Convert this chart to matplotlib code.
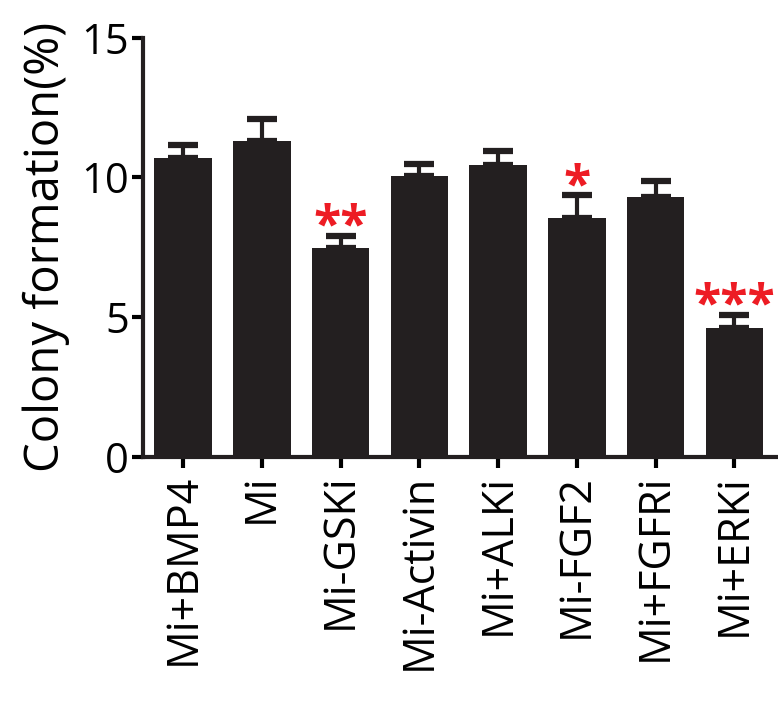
import matplotlib
matplotlib.use("Agg")
import matplotlib.pyplot as plt

# Data
conditions = ["Mi+BMP4", "Mi", "Mi-GSKi", "Mi-Activin", "Mi+ALKi", "Mi-FGF2", "Mi+FGFRi", "Mi+ERKi"]
colony_pct = [10.70, 11.30, 7.49, 10.05, 10.45, 8.56, 9.30, 4.63]
sem = [0.47, 0.80, 0.41, 0.44, 0.51, 0.80, 0.56, 0.45]
stars = ["", "", "**", "", "", "*", "", "***"]

plt.rcParams['font.family'] = ['Open Sans', 'DejaVu Sans']

fig = plt.figure(figsize=(7.78, 7.07), dpi=100)
ax = fig.add_axes([0.1838, 0.3536, 0.8149, 0.5931])

bar_color = '#231f20'
x = range(len(conditions))
ax.bar(x, colony_pct, width=0.73, color=bar_color, zorder=2)
_, caps, _ = ax.errorbar(x, colony_pct, yerr=[[0] * len(sem), sem], fmt='none', ecolor=bar_color,
                         elinewidth=3, capsize=11, capthick=4.5, zorder=1)
for c in caps:
    c.set_solid_capstyle('round')

for i, s in enumerate(stars):
    if s:
        ax.annotate(s, (i, colony_pct[i] + sem[i]), xytext=(0, -12), textcoords='offset points',
                    ha='center', va='bottom', color='#ed1c24', fontsize=36,
                    fontweight='bold')

ax.set_xlim(-0.51, 7.54)
ax.set_ylim(0, 15)
ax.set_yticks([0, 5, 10, 15])
ax.set_xticks(list(x))
ax.set_xticklabels(conditions, rotation=90, fontsize=31)
ax.tick_params(axis='y', labelsize=30, width=3, length=8, pad=2)
ax.tick_params(axis='x', width=3, length=8, pad=4)
ax.set_ylabel('Colony formation(%)', fontsize=34, labelpad=8)

for side in ['top', 'right']:
    ax.spines[side].set_visible(False)
for side in ['left', 'bottom']:
    ax.spines[side].set_linewidth(3)
    ax.spines[side].set_color(bar_color)

fig.savefig('out.png', dpi=100)
